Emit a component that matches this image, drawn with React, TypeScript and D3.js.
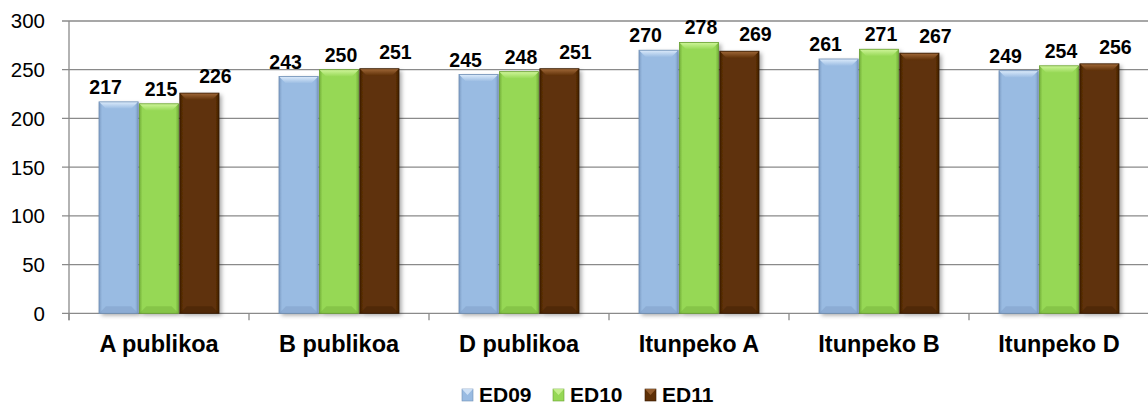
import React from "react";
import * as d3 from "d3";

const categories = ["A publikoa", "B publikoa", "D publikoa", "Itunpeko A", "Itunpeko B", "Itunpeko D"];
const seriesNames = ["ED09", "ED10", "ED11"];
const ed09 = [217, 243, 245, 270, 261, 249];
const ed10 = [215, 250, 248, 278, 271, 254];
const ed11 = [226, 251, 251, 269, 267, 256];
const yTicks = [0, 50, 100, 150, 200, 250, 300];

const seriesValues = [ed09, ed10, ed11];
const colors = [
  { base: "#99BBE2", light: "#DCEBFB", dark: "#7C9CC4", edge: "#7090B6" },
  { base: "#96D855", light: "#CFF59A", dark: "#74B03A", edge: "#6AA132" },
  { base: "#5E3007", light: "#A06838", dark: "#3F1F03", edge: "#361A02" },
];
const labelDx = [-13, 2, 16];
const labelDy = [-8, -8, -10];

const W = 1148;
const H = 405;
const left = 69;
const right = 1149;
const top = 21;
const bottom = 313.3;

export default function App() {
  const x0 = d3.scaleBand<string>().domain(categories).range([left, right]).padding(0);
  const bw = x0.bandwidth();
  const x1 = d3
    .scaleBand<string>()
    .domain(seriesNames)
    .range([bw / 6, (bw * 5) / 6])
    .paddingInner(0.03)
    .paddingOuter(0);
  const y = d3.scaleLinear().domain([0, 300]).range([bottom, top]);
  const barW = x1.bandwidth();
  const bev = 7;

  const font = "'Liberation Sans', Arial, sans-serif";

  return (
    <svg
      width={W}
      height={H}
      style={{ position: "absolute", left: 0, top: 0, background: "#fff" }}
      fontFamily={font}
    >
      <defs>
        <filter id="shadow" x="-20%" y="-10%" width="150%" height="130%">
          <feDropShadow dx="2.5" dy="2" stdDeviation="2" floodColor="#000" floodOpacity="0.35" />
        </filter>
        {colors.map((c, i) => (
          <linearGradient key={i} id={`body${i}`} x1="0" x2="1" y1="0" y2="0">
            <stop offset="0" stopColor={c.dark} />
            <stop offset="0.08" stopColor={c.base} />
            <stop offset="0.92" stopColor={c.base} />
            <stop offset="1" stopColor={c.dark} />
          </linearGradient>
        ))}
        {colors.map((c, i) => (
          <linearGradient key={"t" + i} id={`top${i}`} x1="0" x2="0" y1="0" y2="1">
            <stop offset="0" stopColor={c.light} />
            <stop offset="1" stopColor={c.base} />
          </linearGradient>
        ))}
      </defs>

      {/* gridlines */}
      {yTicks.map((t) => (
        <line
          key={t}
          x1={left - 7}
          x2={W}
          y1={y(t)}
          y2={y(t)}
          stroke="#8A8A8A"
          strokeWidth={1.3}
        />
      ))}
      {/* y axis */}
      <line x1={left} x2={left} y1={top} y2={bottom + 7} stroke="#8A8A8A" strokeWidth={1.3} />
      {/* x ticks */}
      {categories.map((c) => (
        <line
          key={c}
          x1={x0(c)!}
          x2={x0(c)!}
          y1={bottom}
          y2={bottom + 7}
          stroke="#8A8A8A"
          strokeWidth={1.3}
        />
      ))}
      {/* y tick labels */}
      {yTicks.map((t) => (
        <text key={t} x={45} y={y(t)} dy="0.36em" textAnchor="end" fontSize={20.5} fill="#000">
          {t}
        </text>
      ))}

      {/* bars */}
      {categories.map((c, ci) => (
        <g key={c} transform={`translate(${x0(c)},0)`}>
          {seriesNames.map((s, si) => {
            const v = seriesValues[si][ci];
            const bx = x1(s)!;
            const by = y(v);
            const h = bottom - by;
            const col = colors[si];
            return (
              <g key={s}>
                <g filter="url(#shadow)">
                  <rect x={bx} y={by} width={barW} height={h} fill={`url(#body${si})`} />
                </g>
                <polygon
                  points={`${bx},${by} ${bx + barW},${by} ${bx + barW - bev},${by + bev} ${bx + bev},${by + bev}`}
                  fill={`url(#top${si})`}
                />
                <polygon
                  points={`${bx},${bottom} ${bx + barW},${bottom} ${bx + barW - bev},${bottom - bev} ${bx + bev},${bottom - bev}`}
                  fill={col.dark}
                  opacity={0.45}
                />
                <rect x={bx} y={by} width={barW} height={h} fill="none" stroke={col.edge} strokeWidth={0.8} />
              </g>
            );
          })}
        </g>
      ))}

      {/* value labels */}
      {categories.map((c, ci) =>
        seriesNames.map((s, si) => {
          const v = seriesValues[si][ci];
          return (
            <text
              key={c + s}
              x={x0(c)! + x1(s)! + barW / 2 + labelDx[si]}
              y={y(v) + labelDy[si]}
              textAnchor="middle"
              fontSize={19.5}
              fontWeight="bold"
              fill="#000"
            >
              {v}
            </text>
          );
        })
      )}

      {/* x labels */}
      {categories.map((c) => (
        <text
          key={c}
          x={x0(c)! + bw / 2}
          y={352}
          textAnchor="middle"
          fontSize={23.5}
          fontWeight="bold"
          fill="#000"
        >
          {c}
        </text>
      ))}

      {/* legend */}
      {seriesNames.map((s, i) => {
        const lx = [462, 553, 645][i];
        const col = colors[i];
        return (
          <g key={s}>
            <rect x={lx} y={389} width={11} height={12} fill={col.base} stroke={col.edge} strokeWidth={0.6} />
            <polygon
              points={`${lx},389 ${lx + 11},389 ${lx + 5.5},395`}
              fill={col.light}
              opacity={0.8}
            />
            <text x={lx + 17} y={401.5} fontSize={21} fontWeight="bold" fill="#000">
              {s}
            </text>
          </g>
        );
      })}
    </svg>
  );
}
